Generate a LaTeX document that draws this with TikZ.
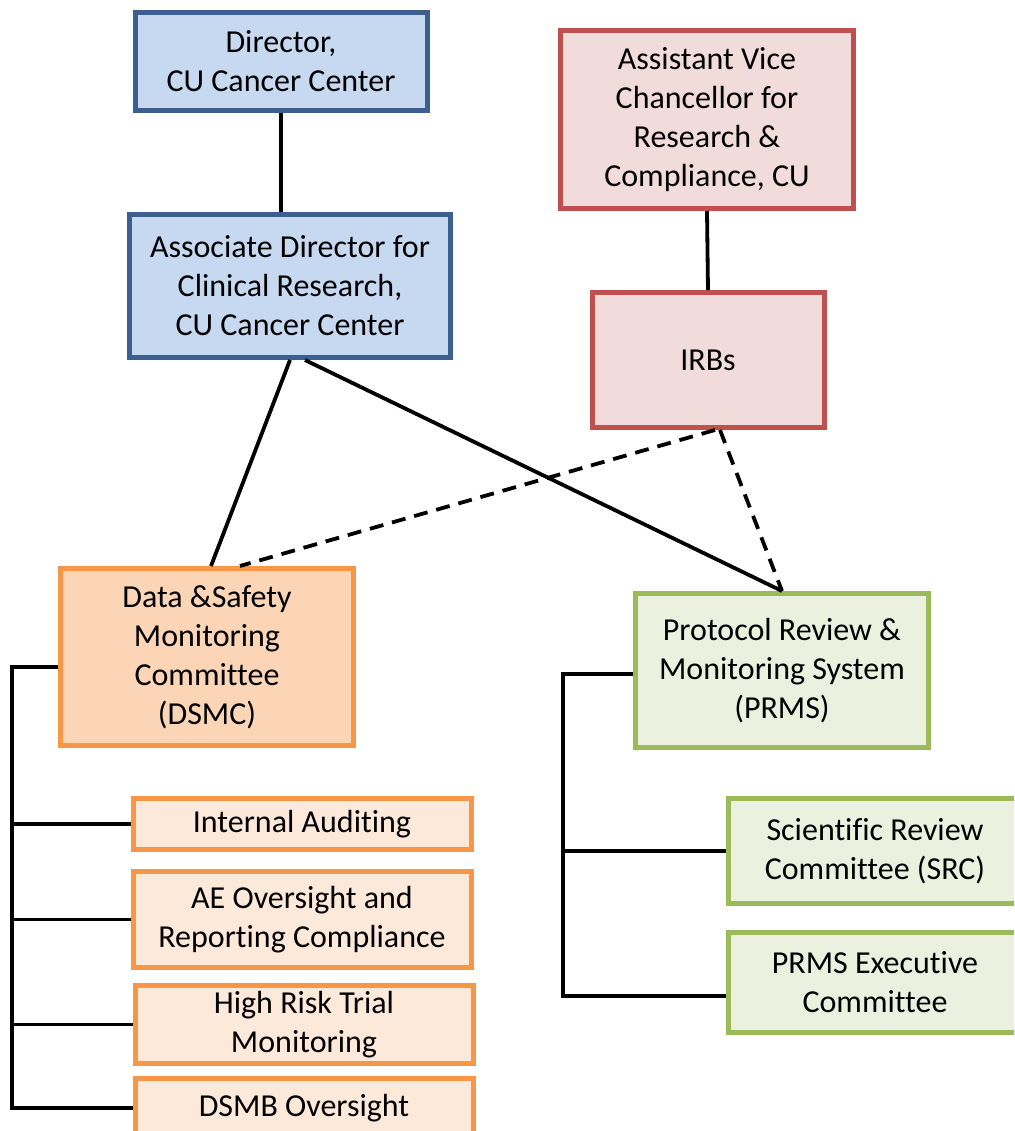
\documentclass[tikz,border=0pt]{standalone}
\usepackage{fontspec}
\setmainfont{Carlito}[Ligatures=NoCommon]
\definecolor{leadfill}{HTML}{C6D9F1}
\definecolor{leadline}{HTML}{3B5F8F}
\definecolor{cufill}{HTML}{F2DCDB}
\definecolor{culine}{HTML}{C0504D}
\definecolor{dsmcfill}{HTML}{FBD5B5}
\definecolor{subfill}{HTML}{FDE9D9}
\definecolor{dsmcline}{HTML}{F79646}
\definecolor{prmsfill}{HTML}{EBF1DE}
\definecolor{prmsline}{HTML}{9BBB59}

\begin{document}
\begin{tikzpicture}[x=0.5pt,y=-0.5pt,
    box/.style={draw, line width=2.5pt, align=center, inner sep=0pt,
        font=\fontsize{16}{19.5}\selectfont},
    leadbox/.style={box, draw=leadline, fill=leadfill},
    cubox/.style={box, draw=culine, fill=cufill},
    dsmcbox/.style={box, draw=dsmcline, fill=dsmcfill},
    subbox/.style={box, draw=dsmcline, fill=subfill, minimum width=169pt},
    prmsbox/.style={box, draw=prmsline, fill=prmsfill, minimum width=146.5pt},
    link/.style={line width=1.9pt},
    dlink/.style={link, dash pattern=on 7pt off 4.5pt}]
    \clip (0,0) rectangle (1014,1131);
    % top of the chart
    \node [leadbox, minimum width=146pt, minimum height=49pt] (dir) at (281,61)
        {Director,\\CU Cancer Center};
    \node [leadbox, minimum width=160.5pt, minimum height=71.5pt] (adr) at (290,286)
        {Associate Director for\\Clinical Research,\\CU Cancer Center};
    \node [cubox, minimum width=146.5pt, minimum height=89pt] (avc) at (707,119.5)
        {Assistant Vice\\Chancellor for\\Research \&\\Compliance, CU};
    \node [cubox, minimum width=116pt, minimum height=67.5pt] (irb) at (708,360) {IRBs};
    % committees
    \node [dsmcbox, minimum width=146.5pt, minimum height=88.5pt] (dsmc) at (207,657)
        {Data \&Safety\\Monitoring\\Committee\\(DSMC)};
    \node [subbox, minimum height=25.5pt] (audit) at (302,824) {Internal Auditing};
    \node [subbox, minimum height=48pt] (ae) at (302,919.5)
        {AE Oversight and\\Reporting Compliance};
    \node [subbox, minimum height=39pt] (risk) at (304,1024.5)
        {High Risk Trial\\Monitoring};
    \node [subbox, minimum height=29.5pt] (dsmb) at (304,1108) {DSMB Oversight};
    \node [prmsbox, minimum height=77pt] (prms) at (782,670.5)
        {Protocol Review \&\\Monitoring System\\(PRMS)};
    \node [prmsbox, minimum height=52.5pt] (src) at (875,851)
        {Scientific Review\\Committee (SRC)};
    \node [prmsbox, minimum height=50pt] (exec) at (875,982)
        {PRMS Executive\\Committee};
    \coordinate (lbus) at (12,667);
    \coordinate (rbus) at (563,674);
    % connectors
    \draw [link] (dir.south) -- (dir.south |- adr.north);
    \draw [link] (avc.south) -- (irb.north);
    \draw [link] (adr.south) -- ([xshift=2pt]dsmc.north);
    \draw [link] ([xshift=7.5pt]adr.south) -- (prms.north);
    \draw [dlink] ([xshift=3.5pt]irb.south) -- ([xshift=16.5pt]dsmc.north);
    \draw [dlink] ([xshift=6pt]irb.south) -- (prms.north);
    \draw [link] (dsmc.west |- lbus) -- (lbus) |- (dsmb.west);
    \foreach \n in {audit, ae, risk}
        \draw [link] (\n.west) -- (\n.west -| lbus);
    \draw [link] (prms.west |- rbus) -- (rbus) |- ([yshift=-7pt]exec.west);
    \draw [link] (src.west) -- (src.west -| rbus);
\end{tikzpicture}
\end{document}
